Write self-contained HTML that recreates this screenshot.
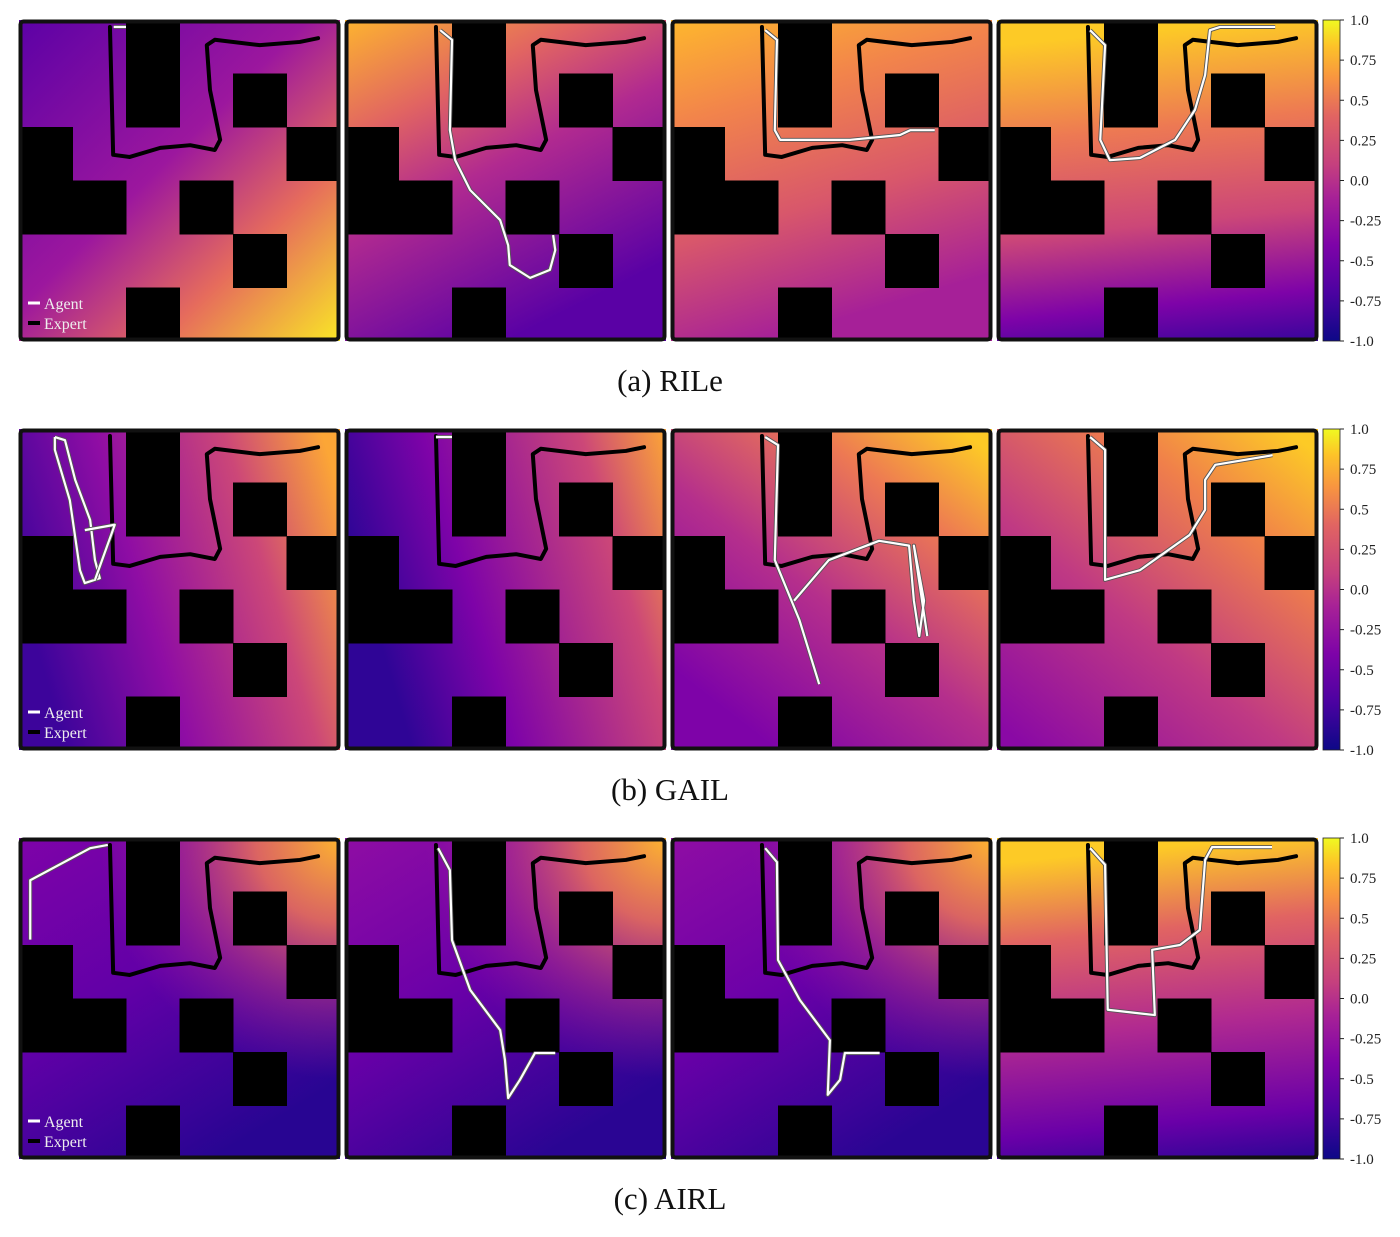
<!DOCTYPE html>
<html><head><meta charset="utf-8">
<style>
html,body{margin:0;padding:0;background:#fff;}
svg{display:block;font-family:"Liberation Serif",serif;}
</style></head>
<body>
<svg id="fig" width="1400" height="1237" viewBox="0 0 1400 1237" xmlns="http://www.w3.org/2000/svg">
<defs id="defs"></defs>
</svg>
<script>
const NS="http://www.w3.org/2000/svg";
const svg=document.getElementById('fig');
const defs=document.getElementById('defs');

// ---- data ----
const rowLabels=["(a) RILe","(b) GAIL","(c) AIRL"];
const rowNames=["rile","gail","airl"];
const colorbarTicks=["1.0","0.75","0.5","0.25","0.0","-0.25","-0.5","-0.75","-1.0"];
const walls=[[2,0],[2,1],[4,1],[0,2],[5,2],[0,3],[1,3],[3,3],[4,4],[2,5]];
const expertPath=[[1.70,0.13],[1.76,2.52],[2.07,2.56],[2.64,2.39],[3.2,2.34],[3.66,2.43],[3.76,2.24],[3.57,1.31],[3.51,0.47],[3.66,0.37],[4.5,0.47],[5.25,0.41],[5.59,0.34]];
const agentPaths=[
 [ [[[1.77,0.13],[2.0,0.13]]],
   [[[1.78,0.19],[2.0,0.37],[1.96,2.06],[2.06,2.62],[2.34,3.18],[2.9,3.74],[3.05,4.21],[3.08,4.58],[3.46,4.82],[3.83,4.67],[3.93,4.3],[3.89,4.02]]],
   [[[1.76,0.19],[1.98,0.37],[1.94,2.06],[2.04,2.24],[3.35,2.24],[4.28,2.15],[4.47,2.06],[4.93,2.06]]],
   [[[1.74,0.19],[2.02,0.47],[1.93,2.24],[2.11,2.62],[2.67,2.58],[3.33,2.24],[3.7,1.68],[3.89,1.03],[3.98,0.19],[4.17,0.13],[5.2,0.13]]] ],
 [ [[[0.67,0.15],[0.86,0.21],[1.05,0.95],[1.33,1.7],[1.42,2.45],[1.51,2.79],[1.23,2.88],[1.14,2.64],[0.95,1.33],[0.67,0.39],[0.67,0.15]],[[1.23,1.89],[1.79,1.79],[1.42,2.82]]],
   [[[1.70,0.15],[2.0,0.15]]],
   [[[1.76,0.15],[2.0,0.30],[1.94,2.45],[2.4,3.57],[2.77,4.77]],[[2.3,3.21],[2.95,2.45],[3.89,2.09],[4.45,2.18],[4.54,3.21],[4.64,3.87],[4.73,3.21],[4.54,2.18],[4.79,3.87]]],
   [[[1.74,0.15],[2.02,0.39],[2.02,2.82],[2.67,2.64],[3.6,1.98],[3.89,1.51],[3.89,0.95],[4.08,0.67],[5.15,0.49]]] ],
 [ [[[0.21,1.9],[0.21,0.79],[1.33,0.19],[1.66,0.13]]],
   [[[1.74,0.19],[1.96,0.6],[2.0,1.91],[2.34,2.84],[2.9,3.59],[2.99,4.15],[3.05,4.86],[3.27,4.52],[3.55,4.02],[3.93,4.02]]],
   [[[1.76,0.19],[1.98,0.45],[2.0,2.28],[2.41,3.03],[2.97,3.78],[2.93,4.8],[3.16,4.52],[3.25,4.02],[3.9,4.02]]],
   [[[1.74,0.19],[2.02,0.5],[2.07,3.21],[2.95,3.31],[2.9,2.09],[3.42,2.0],[3.79,1.72],[3.89,0.41],[4.02,0.17],[5.14,0.17]]] ]
];
// gradient definitions: linear [x1,y1,x2,y2,stops]
const grads=[
 [[0,0,1,1,[[0,"#5c01a6"],[0.45,"#9c179e"],[0.72,"#e66c5c"],[1,"#f9e726"]]],
  [0,0,0.5,1,[[0,"#fdb42f"],[0.3,"#e16462"],[0.55,"#b12a90"],[1,"#5a01a5"]]],
  [0,0,0.3,1,[[0,"#feb72d"],[0.3,"#f2844b"],[0.65,"#d8576b"],[1,"#a62098"]]],
  [0.8,0,0.9,1,[[0,"#fdca26"],[0.3,"#ed7953"],[0.6,"#cc4778"],[0.85,"#7e03a8"],[1,"#3c059c"]]]],
 [[0,0.5,1,0.2,[[0,"#3d049b"],[0.35,"#8f0da4"],[0.72,"#cc4778"],[1,"#fca636"]]],
  [0,0.3,1,0,[[0,"#2f0596"],[0.3,"#7e03a8"],[0.75,"#cc4778"],[1,"#fca636"]]],
  [0.2,0.9,0.9,0,[[0,"#7e03a8"],[0.4,"#b52f8c"],[0.75,"#ed7953"],[1,"#fdca26"]]],
  [0.1,1,0.9,0,[[0,"#8a09a5"],[0.4,"#c03a83"],[0.75,"#f0804a"],[1,"#fdca26"]]]],
 [[0,0,0.6,1,[[0,"#7e03a8"],[0.5,"#6100a7"],[1,"#280592"]]],
  [0,0,0.6,1,[[0,"#8f0da4"],[0.5,"#6a00a8"],[1,"#2a0593"]]],
  [0,0,0.6,1,[[0,"#8f0da4"],[0.5,"#6a00a8"],[1,"#2a0593"]]],
  [0.8,0,0.9,1,[[0,"#fdca26"],[0.25,"#e16462"],[0.55,"#b12a90"],[0.85,"#6a00a8"],[1,"#2f0596"]]]]
];
// overlay radial glow at top-right for AIRL panels: [row,col,cx,cy,r]
const overlays=[[2,0,1,0,0.75],[2,1,1,0,0.75],[2,2,1,0,0.75]];
// ---- layout ----
const panelX=[19,345,671,997], rowY=[20,429,838], P=321, C=P/6;
function sx(px,c){return px+c*C;}
function sy(py,r){return py+r*C;}
function el(tag,attrs,parent){const e=document.createElementNS(NS,tag);for(const k in attrs)e.setAttribute(k,attrs[k]);(parent||svg).appendChild(e);return e;}

rowY.forEach((py,r)=>{
  const row=el('g',{});
  
  
  panelX.forEach((px,c)=>{
    const g=grads[r][c];
    const gid='g'+r+c;
    const lg=el('linearGradient',{id:gid,x1:g[0],y1:g[1],x2:g[2],y2:g[3]},defs);
    g[4].forEach(s=>el('stop',{offset:s[0],'stop-color':s[1]},lg));
    const pg=el('g',{},row);
    
    
    el('rect',{x:px,y:py,width:P,height:P,fill:'url(#'+gid+')'},pg);
    overlays.filter(o=>o[0]===r&&o[1]===c).forEach(o=>{
      const oid='o'+r+c;
      const rg=el('radialGradient',{id:oid,cx:o[2],cy:o[3],r:o[4]},defs);
      [[0,"#fdb42f",1],[0.35,"#e8705a",0.9],[0.7,"#c03a83",0.45],[1,"#a62098",0]].forEach(s=>el('stop',{offset:s[0],'stop-color':s[1],'stop-opacity':s[2]},rg));
      el('rect',{x:px,y:py,width:P,height:P,fill:'url(#'+oid+')'},pg);
    });
    walls.forEach(w=>{
      const b=el('rect',{x:sx(px,w[0]),y:sy(py,w[1]),width:C+0.5,height:C+0.5,fill:'#000'},pg);
      
      
    });
    const ep=el('polyline',{points:expertPath.map(p=>sx(px,p[0])+','+sy(py,p[1])).join(' '),fill:'none',stroke:'#000','stroke-width':4,'stroke-linejoin':'round','stroke-linecap':'round'},pg);
    
    
    agentPaths[r][c].forEach(seg=>{
      const pts=seg.map(p=>sx(px,p[0])+','+sy(py,p[1])).join(' ');
      el('polyline',{points:pts,fill:'none',stroke:'#555','stroke-width':4,'stroke-linejoin':'round'},pg);
      const ap=el('polyline',{points:pts,fill:'none',stroke:'#fff','stroke-width':2.2,'stroke-linejoin':'round'},pg);
      
      
    });
    el('rect',{x:px+1.5,y:py+1.5,width:P-3,height:P-3,fill:'none',stroke:'#111','stroke-width':4,rx:3},pg);
    if(c===0){
      const lg2=el('g',{},pg);
      
      
      el('line',{x1:px+9,y1:py+283,x2:px+21,y2:py+283,stroke:'#fff','stroke-width':3},lg2);
      const t1=el('text',{x:px+25,y:py+289,fill:'#eee','font-size':16},lg2);t1.textContent='Agent';
      el('line',{x1:px+9,y1:py+303,x2:px+21,y2:py+303,stroke:'#000','stroke-width':4},lg2);
      const t2=el('text',{x:px+25,y:py+309,fill:'#eee','font-size':16},lg2);t2.textContent='Expert';
    }
  });
  // colorbar
  const cb=el('g',{},row);
  
  
  if(r===0){
    const cg=el('linearGradient',{id:'plasma',x1:0,y1:1,x2:0,y2:0},defs);
    [["0","#0d0887"],["0.15","#4c02a1"],["0.3","#7e03a8"],["0.45","#a82296"],["0.55","#c5407e"],["0.7","#e16462"],["0.82","#f89540"],["0.92","#fdc328"],["1","#f0f921"]].forEach(s=>el('stop',{offset:s[0],'stop-color':s[1]},cg));
  }
  el('rect',{x:1323,y:py,width:17,height:P,fill:'url(#plasma)',stroke:'#222','stroke-width':0.8},cb);
  colorbarTicks.forEach((t,i)=>{
    const y=py+i*(P/(colorbarTicks.length-1));
    el('line',{x1:1340,y1:y,x2:1344,y2:y,stroke:'#222','stroke-width':1},cb);
    const tx=el('text',{x:1350,y:y+5,fill:'#222','font-size':15},cb);
    tx.textContent=t;
    
    
  });
  const cap=el('text',{x:670,y:py+371,'text-anchor':'middle',fill:'#111','font-size':31},row);
  cap.textContent=rowLabels[r];
  
  
});
</script>
</body></html>
